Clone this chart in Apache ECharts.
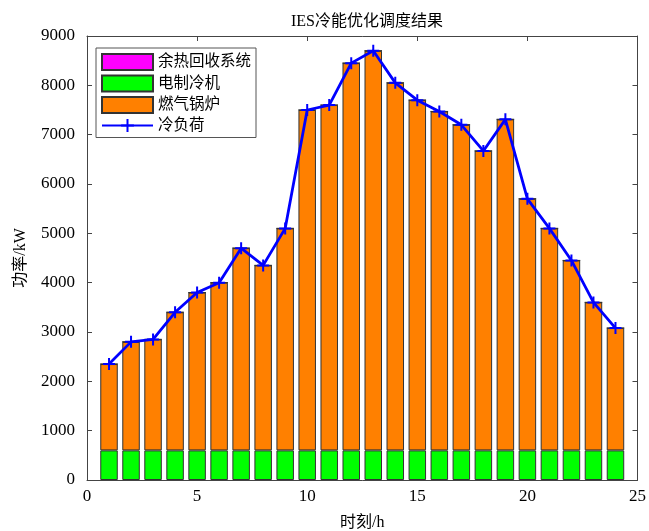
<!DOCTYPE html>
<html>
<head>
<meta charset="utf-8">
<script src="https://cdn.jsdelivr.net/npm/echarts@6/dist/echarts.min.js"></script>
<style>
  html, body { margin: 0; padding: 0; background: #ffffff; }
  #chart { width: 649px; height: 531px; }
</style>
</head>
<body>
<div id="chart"></div>
<script>
// Hours of the day (x positions of the bars)
const hours = [1, 2, 3, 4, 5, 6, 7, 8, 9, 10, 11, 12, 13, 14, 15, 16, 17, 18, 19, 20, 21, 22, 23, 24];
// Waste-heat recovery output, kW
const wasteHeat = [0, 0, 0, 0, 0, 0, 0, 0, 0, 0, 0, 0, 0, 0, 0, 0, 0, 0, 0, 0, 0, 0, 0, 0];
// Electric chiller output, kW
const chiller = [600, 600, 600, 600, 600, 600, 600, 600, 600, 600, 600, 600, 600, 600, 600, 600, 600, 600, 600, 600, 600, 600, 600, 600];
// Gas boiler output, kW
const boiler = [1750, 2200, 2250, 2800, 3200, 3400, 4100, 3750, 4500, 6900, 7000, 7850, 8100, 7450, 7100, 6870, 6600, 6070, 6710, 5100, 4500, 3850, 3000, 2480];
// Cooling load, kW
const coolLoad = [2350, 2800, 2850, 3400, 3800, 4000, 4700, 4350, 5100, 7500, 7600, 8450, 8700, 8050, 7700, 7470, 7200, 6670, 7310, 5700, 5100, 4450, 3600, 3080];
// Axis range and tick spacing
const xMax = 25;
const xStep = 5;
const yTicks = [0, 1000, 2000, 3000, 4000, 5000, 6000, 7000, 8000, 9000];

const serif = '"Liberation Serif", "Times New Roman", serif';
const cjk = '"Liberation Serif", "Noto Sans CJK SC", serif';
const axisColor = '#444444';

// Category slots 0..25 so the axis spans the whole hour range; unused slots stay empty
const slots = Array.from({ length: xMax + 1 }, (_, i) => String(i));
const onSlots = (arr) => slots.map((s) => {
  const k = hours.indexOf(Number(s));
  return k >= 0 ? arr[k] : '-';
});
const plus = 'path://M0,5L10,5M5,0L5,10';

const chart = echarts.init(document.getElementById('chart'), null, { renderer: 'canvas' });

const tickStyle = { show: true, inside: true, length: 5, interval: xStep - 1, lineStyle: { color: axisColor, width: 1 } };
const yTickStyle = { show: true, inside: true, length: 5, lineStyle: { color: axisColor, width: 1 } };

chart.setOption({
  animation: false,
  backgroundColor: '#ffffff',
  title: {
    text: 'IES冷能优化调度结果',
    left: 362, top: 9, textAlign: 'center',
    textStyle: { fontFamily: cjk, fontSize: 16, fontWeight: 'normal', color: '#000' }
  },
  legend: {
    orient: 'vertical',
    left: 96, top: 48,
    padding: [5, 5, 4, 5],
    itemWidth: 51, itemHeight: 16, itemGap: 3.5,
    backgroundColor: '#ffffff',
    borderColor: '#555555', borderWidth: 1,
    textStyle: { fontFamily: cjk, fontSize: 15.5, color: '#000', lineHeight: 16 },
    data: [
      { name: '余热回收系统', icon: 'rect' },
      { name: '电制冷机', icon: 'rect' },
      { name: '燃气锅炉', icon: 'rect' },
      { name: '冷负荷' }
    ]
  },
  grid: { left: 87, right: 11.5, top: 36, bottom: 51, containLabel: false, outerBoundsMode: 'none' },
  xAxis: [{
    type: 'category', data: slots, boundaryGap: false,
    name: '时刻/h', nameLocation: 'middle', nameGap: 35,
    nameTextStyle: { fontFamily: cjk, fontSize: 16, color: '#000' },
    axisLine: { show: true, onZero: false, lineStyle: { color: axisColor, width: 1 } },
    axisTick: tickStyle,
    axisLabel: { fontFamily: serif, fontSize: 17, color: '#000', margin: 8, interval: xStep - 1 },
    splitLine: { show: false }
  }, {
    type: 'category', data: slots, boundaryGap: false, position: 'top',
    axisLine: { show: true, onZero: false, lineStyle: { color: axisColor, width: 1 } },
    axisTick: tickStyle, axisLabel: { show: false }, splitLine: { show: false }
  }],
  yAxis: [{
    type: 'value', min: 0, max: 9000, interval: 1000,
    name: '功率/kW', nameLocation: 'middle', nameGap: 58,
    nameTextStyle: { fontFamily: cjk, fontSize: 16, color: '#000' },
    axisLine: { show: true, onZero: false, lineStyle: { color: axisColor, width: 1 } },
    axisTick: yTickStyle,
    axisLabel: { fontFamily: serif, fontSize: 17, color: '#000', margin: 12,
      formatter: (v) => yTicks.includes(v) ? String(v) : '' },
    splitLine: { show: false }
  }, {
    type: 'value', min: 0, max: 9000, interval: 1000, position: 'right',
    axisLine: { show: true, onZero: false, lineStyle: { color: axisColor, width: 1 } },
    axisTick: yTickStyle, axisLabel: { show: false }, splitLine: { show: false }
  }],
  series: [
    {
      name: '电制冷机', type: 'bar', stack: 'supply', barWidth: 17.5,
      itemStyle: { color: '#00FF00', borderColor: '#333333', borderWidth: 1 },
      data: onSlots(chiller)
    },
    {
      name: '燃气锅炉', type: 'bar', stack: 'supply', barWidth: 17.5,
      itemStyle: { color: '#FF8000', borderColor: '#333333', borderWidth: 1 },
      data: onSlots(boiler)
    },
    {
      name: '余热回收系统', type: 'bar', stack: 'supply', barWidth: 17.5,
      itemStyle: { color: '#FF00FF', borderColor: '#333333', borderWidth: 1 },
      data: onSlots(wasteHeat)
    },
    {
      name: '冷负荷', type: 'line', z: 5,
      symbol: plus, symbolSize: 12, showSymbol: true,
      lineStyle: { color: '#0000FF', width: 2.8 },
      itemStyle: { color: '#0000FF', borderColor: '#0000FF', borderWidth: 2 },
      data: onSlots(coolLoad)
    }
  ]
});
</script>
</body>
</html>
